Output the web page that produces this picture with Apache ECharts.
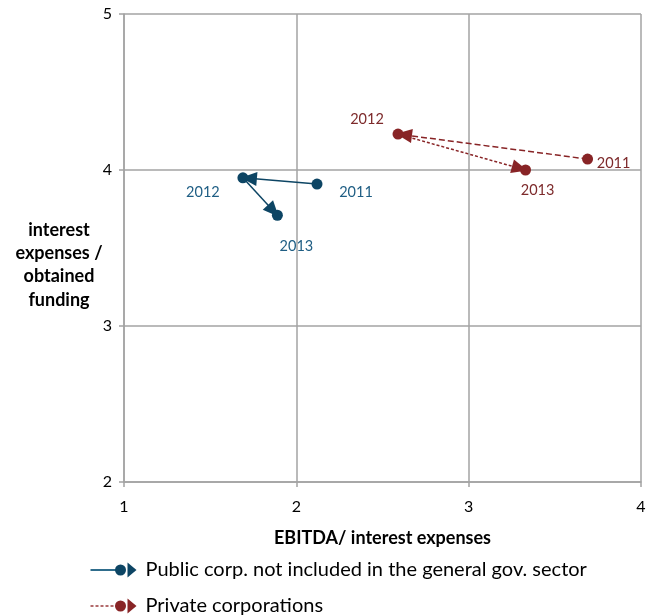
<!DOCTYPE html>
<html>
<head>
<meta charset="utf-8">
<script src="https://cdn.jsdelivr.net/npm/echarts@6/dist/echarts.min.js"></script>
<style>
  html, body { margin: 0; padding: 0; background: #fff; }
  #chart { width: 653px; height: 615px; }
</style>
</head>
<body>
<div id="chart"></div>
<script>
// Financial ratios of corporations, 2011–2013
const years = ['2011', '2012', '2013'];
const publicX = [2.12, 1.69, 1.89];   // EBITDA / interest expenses
const publicY = [3.91, 3.95, 3.71];   // interest expenses / obtained funding
const privateX = [3.69, 2.59, 3.33];
const privateY = [4.07, 4.23, 4.00];
const xTicks = [1, 2, 3, 4];
const yTicks = [2, 3, 4, 5];
const seriesNames = ['Public corp. not included in the general gov. sector', 'Private corporations'];
const xTitle = 'EBITDA/ interest expenses';
const yTitle = 'interest\nexpenses /\nobtained\nfunding';

const FONT = 'Lato, "Open Sans", sans-serif';
const BLUE = '#0d4564';
const BLUE_TXT = '#1f5e84';
const RED = '#882426';
const RED_TXT = '#7d2a2b';
const GRID = '#a3a3a3';

// label offsets (px) for each year's point
const publicLabelOffset = [[39, 8], [-40, 15], [19, 31]];
const privateLabelOffset = [[26, 4], [-31, -15], [12, 20]];

function points(xs, ys, offsets, color) {
  return xs.map((x, i) => ({
    value: [x, ys[i]],
    name: years[i],
    label: { offset: offsets[i], color: color }
  }));
}

function segments(xs, ys) {
  const segs = [];
  for (let i = 0; i < xs.length - 1; i++) {
    segs.push([{ coord: [xs[i], ys[i]] }, { coord: [xs[i + 1], ys[i + 1]] }]);
  }
  return segs;
}

function arrowSeries(name, xs, ys, offsets, color, txtColor, dashes) {
  const segs = segments(xs, ys).map((s, i) => {
    s[0].lineStyle = { type: dashes ? dashes[i] : 'solid' };
    return s;
  });
  return {
    name: name,
    type: 'scatter',
    symbol: 'circle',
    symbolSize: 11,
    itemStyle: { color: color, opacity: 1 },
    z: 3,
    label: {
      show: true,
      position: 'inside',
      formatter: p => p.name,
      fontFamily: FONT,
      fontSize: 14.5,
      color: txtColor
    },
    data: points(xs, ys, offsets, txtColor),
    markLine: {
      silent: true,
      animation: false,
      symbol: ['none', 'triangle'],
      symbolSize: [14, 16],
      symbolOffset: [[0, 0], [0, 6]],
      label: { show: false },
      emphasis: { disabled: true },
      lineStyle: { color: color, width: 1.5, opacity: 1 },
      data: segs
    }
  };
}

const chart = echarts.init(document.getElementById('chart'));
chart.setOption({
  animation: false,
  backgroundColor: '#fff',
  grid: { left: 124, right: 12, top: 14, bottom: 133 },
  xAxis: {
    type: 'value',
    min: xTicks[0],
    max: xTicks[xTicks.length - 1],
    interval: 1,
    name: xTitle,
    nameLocation: 'middle',
    nameGap: 47,
    nameTextStyle: { fontFamily: FONT, fontSize: 18, fontWeight: 'bold', color: '#000' },
    axisLine: { show: true, lineStyle: { color: GRID, width: 1.5 } },
    axisTick: { show: true, length: 5, lineStyle: { color: GRID, width: 1.5 } },
    axisLabel: { fontFamily: FONT, fontSize: 16, color: '#000', margin: 17 },
    splitLine: { show: true, lineStyle: { color: GRID, width: 1.5 } }
  },
  yAxis: {
    type: 'value',
    min: yTicks[0],
    max: yTicks[yTicks.length - 1],
    interval: 1,
    axisLine: { show: true, lineStyle: { color: GRID, width: 1.5 } },
    axisTick: { show: true, length: 5, lineStyle: { color: GRID, width: 1.5 } },
    axisLabel: { fontFamily: FONT, fontSize: 16, color: '#000', margin: 12 },
    splitLine: { show: true, lineStyle: { color: GRID, width: 1.5 } }
  },
  series: [
    arrowSeries(seriesNames[0], publicX, publicY, publicLabelOffset, BLUE, BLUE_TXT, null),
    arrowSeries(seriesNames[1], privateX, privateY, privateLabelOffset, RED, RED_TXT, [[6, 3], [3, 2]])
  ],
  graphic: [
    // vertical axis title, horizontal and centred beside the axis
    {
      type: 'text', x: 59, y: 265,
      style: { text: yTitle, font: 'bold 18px ' + FONT, fill: '#000', align: 'center', verticalAlign: 'middle', lineHeight: 23.3 }
    },
    {
      type: 'group', left: 88, top: 560,
      children: [
        { type: 'line', shape: { x1: 0, y1: 9, x2: 30, y2: 9 }, style: { stroke: '#2f6d8c', lineWidth: 2 } },
        { type: 'circle', shape: { cx: 30, cy: 9, r: 5.5 }, style: { fill: BLUE } },
        { type: 'polygon', shape: { points: [[37, 1.5], [46, 9], [37, 16.5]] }, style: { fill: BLUE } },
        { type: 'text', x: 55, y: 9, style: { text: seriesNames[0], font: '20px ' + FONT, fill: '#000', verticalAlign: 'middle' } }
      ]
    },
    {
      type: 'group', left: 88, top: 596,
      children: [
        { type: 'line', shape: { x1: 0, y1: 9, x2: 26, y2: 9 }, style: { stroke: '#9a3b3d', lineWidth: 1.5, lineDash: [3, 2] } },
        { type: 'circle', shape: { cx: 30, cy: 9, r: 5.5 }, style: { fill: RED } },
        { type: 'polygon', shape: { points: [[37, 1.5], [46, 9], [37, 16.5]] }, style: { fill: RED } },
        { type: 'text', x: 55, y: 9, style: { text: seriesNames[1], font: '20px ' + FONT, fill: '#000', verticalAlign: 'middle' } }
      ]
    }
  ]
});
</script>
</body>
</html>
